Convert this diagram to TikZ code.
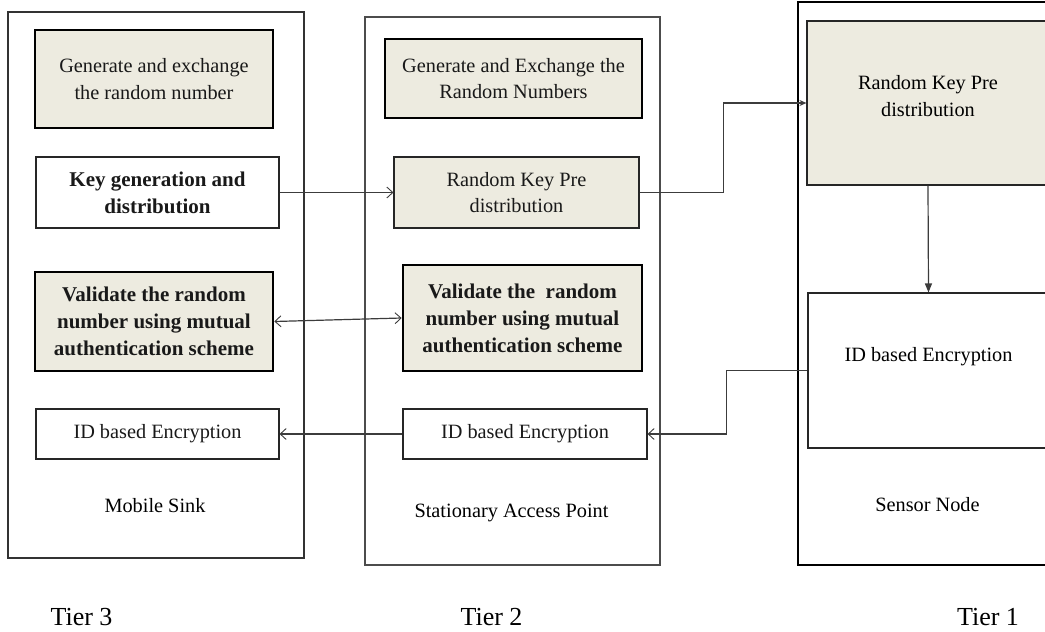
\documentclass[tikz,border=0pt]{standalone}
\usepackage{fontspec}
\setmainfont{Liberation Serif}
\usetikzlibrary{arrows.meta}
\definecolor{beige}{RGB}{237,235,224}
\definecolor{lineg}{RGB}{60,60,60}
\tikzset{
  outerbox/.style={draw=#1, rectangle, inner sep=0pt},
  thickbox/.style={draw=black, line width=2.7pt, fill=beige, inner sep=0pt, align=center, text=black!90},
  thinbox/.style={draw=black!85, line width=1.1pt, inner sep=0pt, align=center, text=black!90},
  regtext/.style={font=\fontsize{20.3}{26.5}\selectfont},
  boldtext/.style={font=\bfseries\fontsize{21}{27}\selectfont},
  tiertext/.style={font=\fontsize{26}{30}\selectfont, text=black},
  conn/.style={draw=lineg, line width=1.2pt},
  openhead/.style={-{Straight Barb[length=6pt,width=11pt,line width=0.9pt]}},
}
\begin{document}
\begin{tikzpicture}[x=1pt,y=-1pt]
\useasboundingbox (0,0) rectangle (1045,632);
\clip (0,0) rectangle (1045,632);
% outer boxes
\node[outerbox=black!80, line width=1.6pt, minimum width=296pt, minimum height=546pt] (ms) at (156,285) {};
\node[outerbox=black!70, line width=1.2pt, minimum width=295pt, minimum height=548pt] (sap) at (512.5,291) {};
\node[outerbox=black, line width=2.8pt, minimum width=262pt, minimum height=563pt] (sn) at (929,283.5) {};
% Mobile Sink column
\node[thickbox, regtext, minimum width=238pt, minimum height=98pt] (a1) at (154,79) {Generate and exchange\\the random number};
\node[thinbox, boldtext, minimum width=243pt, minimum height=71pt] (a2) at (157.5,192.5) {Key generation and\\distribution};
\node[thickbox, boldtext, minimum width=238pt, minimum height=99pt] (a3) at (154,321.5) {Validate the random\\number using mutual\\authentication scheme};
\node[thinbox, regtext, minimum width=243pt, minimum height=50pt] (a4) at (157.5,434) {ID based Encryption};
\node[regtext] (msl) at (155,506) {Mobile Sink};
% Stationary Access Point column
\node[thickbox, regtext, minimum width=257pt, minimum height=79pt] (b1) at (513.5,78.5) {Generate and Exchange the\\Random Numbers};
\node[thinbox, fill=beige, regtext, minimum width=245pt, minimum height=71pt] (b2) at (516.5,192.5) {Random Key Pre\\distribution};
\node[thickbox, boldtext, minimum width=239pt, minimum height=106pt] (b3) at (522.5,318) {Validate the\ \ random\\number using mutual\\authentication scheme};
\node[thinbox, regtext, minimum width=244pt, minimum height=50pt] (b4) at (525,434) {ID based Encryption};
\node[regtext] (sapl) at (511.5,513) {Stationary Access Point};
% Sensor Node column
\node[thinbox, fill=beige, regtext, minimum width=242pt, minimum height=164pt, label={[regtext, yshift=7pt, align=center]center:Random Key Pre\\distribution}] (c1) at (928,103) {};
\node[thinbox, regtext, minimum width=241pt, minimum height=155pt, label={[regtext, yshift=14pt]center:ID based Encryption}] (c2) at (928.5,370.5) {};
\node[regtext] (snl) at (927.5,505) {Sensor Node};
% Tier labels
\node[tiertext] (t3) at (81.5,617) {Tier 3};
\node[tiertext] (t2) at (491.5,617) {Tier 2};
\node[tiertext] (t1) at (988,617) {Tier 1};
% connectors
\draw[conn, openhead] (a2.east) -- (b2.west);
\draw[conn, {Straight Barb[length=6pt,width=11pt,line width=0.9pt]}-{Straight Barb[length=6pt,width=11pt,line width=0.9pt]}] (a3.east) -- (b3.west);
\draw[conn, -{Stealth[length=7pt,width=6pt]}] (b2.east) -- ++(84,0) |- (c1.west);
\draw[conn, -{Triangle[length=9pt,width=7pt]}] (c1.south) -- (c2.north);
\draw[conn, openhead] (c2.west) -- ++(-81,0) |- (b4.east);
\draw[conn, openhead] (b4.west) -- (a4.east);
\end{tikzpicture}
\end{document}
